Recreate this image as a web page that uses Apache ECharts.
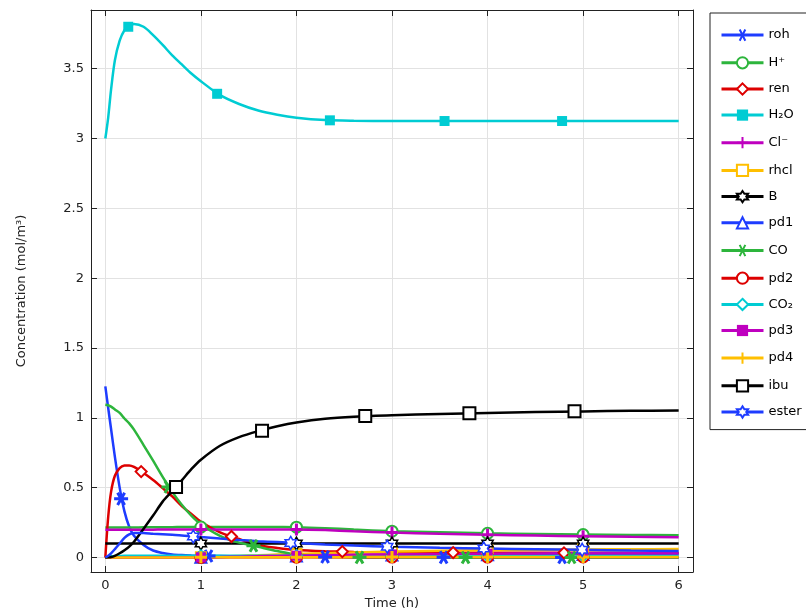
<!DOCTYPE html>
<html><head><meta charset="utf-8">
<script src="https://cdn.jsdelivr.net/npm/echarts@6/dist/echarts.min.js"></script>
<style>html,body{margin:0;padding:0;background:#fff}#c{width:806px;height:609px}</style>
</head><body><div id="c"></div>
<script>
// ---- data (time in h, concentration in mol/m^3) ----
const time  = [0, 0.03, 0.06, 0.1, 0.15, 0.2, 0.25, 0.3, 0.4, 0.5, 0.6, 0.7, 0.8, 0.9, 1.0, 1.2, 1.4, 1.6, 1.8, 2.0, 2.3, 2.6, 3.0, 3.5, 4.0, 4.5, 5.0, 5.5, 6.0];
const roh   = [1.225, 1.07, 0.92, 0.72, 0.50, 0.33, 0.22, 0.155, 0.09, 0.05, 0.032, 0.022, 0.017, 0.014, 0.012, 0.010, 0.008, 0.007, 0.006, 0.005, 0.004, 0.003, 0.002, 0.001, 0, 0, 0, 0, 0];
const hplus = [0.215, 0.215, 0.215, 0.215, 0.215, 0.215, 0.215, 0.215, 0.216, 0.216, 0.217, 0.217, 0.218, 0.218, 0.218, 0.219, 0.219, 0.219, 0.218, 0.217, 0.21, 0.2, 0.188, 0.18, 0.173, 0.168, 0.164, 0.161, 0.159];
const ren   = [0, 0.29, 0.47, 0.585, 0.64, 0.658, 0.659, 0.648, 0.605, 0.555, 0.497, 0.437, 0.368, 0.312, 0.256, 0.18, 0.132, 0.088, 0.068, 0.054, 0.045, 0.04, 0.037, 0.035, 0.034, 0.034, 0.033, 0.033, 0.032];
const h2o   = [3.0, 3.15, 3.35, 3.56, 3.70, 3.775, 3.805, 3.82, 3.80, 3.74, 3.67, 3.595, 3.53, 3.465, 3.41, 3.31, 3.247, 3.20, 3.17, 3.149, 3.132, 3.127, 3.125, 3.125, 3.125, 3.125, 3.125, 3.125, 3.125];
const cl    = [0.198, 0.198, 0.198, 0.198, 0.198, 0.198, 0.198, 0.198, 0.199, 0.199, 0.2, 0.2, 0.2, 0.2, 0.2, 0.201, 0.201, 0.201, 0.2, 0.2, 0.196, 0.188, 0.178, 0.17, 0.163, 0.157, 0.152, 0.148, 0.145];
const rhcl  = [0, 0, 0, 0, 0, 0, 0, 0, 0, 0, 0, 0, 0, 0.001, 0.002, 0.006, 0.011, 0.016, 0.021, 0.025, 0.031, 0.036, 0.042, 0.048, 0.052, 0.055, 0.057, 0.059, 0.06];
const bb    = [0.1, 0.1, 0.1, 0.1, 0.1, 0.1, 0.1, 0.1, 0.1, 0.1, 0.1, 0.1, 0.1, 0.1, 0.1, 0.1, 0.1, 0.1, 0.1, 0.1, 0.1, 0.1, 0.1, 0.1, 0.1, 0.1, 0.1, 0.1, 0.1];
const pd1   = [0, 0, 0, 0, 0, 0, 0, 0, 0, 0, 0, 0.001, 0.001, 0.002, 0.002, 0.004, 0.006, 0.008, 0.009, 0.011, 0.013, 0.015, 0.017, 0.019, 0.02, 0.021, 0.022, 0.023, 0.024];
const co    = [1.094, 1.09, 1.08, 1.06, 1.035, 0.995, 0.96, 0.915, 0.805, 0.693, 0.577, 0.47, 0.378, 0.30, 0.238, 0.155, 0.106, 0.076, 0.046, 0.022, 0.008, 0.002, 0, 0, 0, 0, 0, 0, 0];
const pd2   = [0, 0, 0, 0, 0, 0, 0, 0, 0, 0, 0, 0, 0, 0, 0, 0.001, 0.001, 0.001, 0.001, 0.002, 0.002, 0.002, 0.003, 0.003, 0.003, 0.004, 0.004, 0.004, 0.004];
const co2   = [0, 0.004, 0.008, 0.01, 0.011, 0.012, 0.012, 0.012, 0.012, 0.012, 0.012, 0.012, 0.012, 0.012, 0.012, 0.012, 0.012, 0.012, 0.012, 0.012, 0.011, 0.011, 0.011, 0.011, 0.011, 0.01, 0.01, 0.01, 0.01];
const pd3   = [0, 0, 0, 0, 0, 0, 0, 0, 0, 0, 0, 0, 0, 0, 0.001, 0.003, 0.006, 0.009, 0.011, 0.013, 0.016, 0.019, 0.022, 0.025, 0.027, 0.029, 0.03, 0.031, 0.031];
const pd4   = [0, 0, 0, 0, 0, 0, 0, 0, 0, 0, 0, 0, 0, 0, 0.001, 0.001, 0.001, 0.002, 0.002, 0.002, 0.002, 0.003, 0.003, 0.003, 0.003, 0.003, 0.003, 0.003, 0.003];
const ibu   = [0, 0.001, 0.003, 0.012, 0.03, 0.052, 0.078, 0.112, 0.205, 0.30, 0.40, 0.475, 0.552, 0.632, 0.70, 0.80, 0.862, 0.905, 0.94, 0.967, 0.994, 1.008, 1.018, 1.028, 1.035, 1.041, 1.046, 1.05, 1.053];
const ester = [0, 0.012, 0.03, 0.06, 0.10, 0.14, 0.165, 0.176, 0.175, 0.17, 0.166, 0.162, 0.158, 0.152, 0.146, 0.135, 0.125, 0.117, 0.11, 0.103, 0.093, 0.085, 0.077, 0.07, 0.064, 0.059, 0.055, 0.05, 0.046];

// marker positions [time, value]
const rohMarks   = [[0.165, 0.42], [1.08, 0.011], [2.3, 0.004], [3.54, 0.001], [4.78, 0]];
const hplusMarks = [[1, 0.218], [2, 0.217], [3, 0.188], [4, 0.173], [5, 0.164]];
const renMarks   = [[0.375, 0.615], [1.32, 0.15], [2.48, 0.042], [3.64, 0.035], [4.8, 0.033]];
const h2oMarks   = [[0.24, 3.80], [1.17, 3.32], [2.35, 3.13], [3.55, 3.125], [4.78, 3.125]];
const clMarks    = [[1, 0.2], [2, 0.2], [3, 0.178], [4, 0.163], [5, 0.152]];
const rhclMarks  = [[1, 0.002], [2, 0.025], [3, 0.042], [4, 0.052], [5, 0.057]];
const bMarks     = [[1, 0.1], [2, 0.1], [3, 0.1], [4, 0.1], [5, 0.1]];
const pd1Marks   = [[1, 0.002], [2, 0.011], [3, 0.017], [4, 0.02], [5, 0.022]];
const coMarks    = [[0.66, 0.505], [1.55, 0.084], [2.66, 0.001], [3.77, 0], [4.88, 0]];
const pd2Marks   = [[1, 0], [2, 0.002], [3, 0.003], [4, 0.003], [5, 0.004]];
const co2Marks   = [[1, 0.012], [2, 0.012], [3, 0.011], [4, 0.011], [5, 0.01]];
const pd3Marks   = [[1, 0.001], [2, 0.013], [3, 0.022], [4, 0.027], [5, 0.03]];
const pd4Marks   = [[1, 0.001], [2, 0.002], [3, 0.003], [4, 0.003], [5, 0.003]];
const ibuMarks   = [[0.74, 0.505], [1.64, 0.907], [2.72, 1.013], [3.81, 1.033], [4.91, 1.047]];
const esterMarks = [[0.92, 0.15], [1.94, 0.104], [2.95, 0.077], [3.96, 0.065], [4.99, 0.055]];

const xTicks = [0, 1, 2, 3, 4, 5, 6];
const yTicks = [0, 0.5, 1, 1.5, 2, 2.5, 3, 3.5];

// ---- styling ----
const BLUE = '#1e3cff', GREEN = '#2db53c', RED = '#dd0000', CYAN = '#00ccd3',
      MAG = '#bf00bf', ORANGE = '#ffbf00', BLACK = '#000000';
const FONT = 'DejaVu Sans';
const SYM = {
  ast: 'path://M-10,0L10,0M-5,-8.66L5,8.66M-5,8.66L5,-8.66',
  plus: 'path://M0,-10L0,10M-10,0L10,0',
  hex: 'path://M0,-10L2.887,-5L8.66,-5L5.774,0L8.66,5L2.887,5L0,10L-2.887,5L-8.66,5L-5.774,0L-8.66,-5L-2.887,-5Z'
};
const defs = [
  {name: 'roh',   y: roh,   m: rohMarks,   c: BLUE,   s: SYM.ast,  k: 'open', size: 14},
  {name: 'H⁺',    y: hplus, m: hplusMarks, c: GREEN,  s: 'emptyCircle', k: 'empty', size: 11},
  {name: 'ren',   y: ren,   m: renMarks,   c: RED,    s: 'emptyDiamond', k: 'empty', size: 11},
  {name: 'H₂O',   y: h2o,   m: h2oMarks,   c: CYAN,   s: 'rect', k: 'fill', size: 10},
  {name: 'Cl⁻',   y: cl,    m: clMarks,    c: MAG,    s: SYM.plus, k: 'open', size: 12},
  {name: 'rhcl',  y: rhcl,  m: rhclMarks,  c: ORANGE, s: 'emptyRect', k: 'empty', size: 10},
  {name: 'B',     y: bb,    m: bMarks,     c: BLACK,  s: SYM.hex, k: 'hex', size: 13},
  {name: 'pd1',   y: pd1,   m: pd1Marks,   c: BLUE,   s: 'emptyTriangle', k: 'empty', size: 11},
  {name: 'CO',    y: co,    m: coMarks,    c: GREEN,  s: SYM.ast,  k: 'open', size: 14},
  {name: 'pd2',   y: pd2,   m: pd2Marks,   c: RED,    s: 'emptyCircle', k: 'empty', size: 11},
  {name: 'CO₂',   y: co2,   m: co2Marks,   c: CYAN,   s: 'emptyDiamond', k: 'empty', size: 11},
  {name: 'pd3',   y: pd3,   m: pd3Marks,   c: MAG,    s: 'rect', k: 'fill', size: 10},
  {name: 'pd4',   y: pd4,   m: pd4Marks,   c: ORANGE, s: SYM.plus, k: 'open', size: 12},
  {name: 'ibu',   y: ibu,   m: ibuMarks,   c: BLACK,  s: 'emptyRect', k: 'empty', size: 12},
  {name: 'ester', y: ester, m: esterMarks, c: BLUE,   s: SYM.hex, k: 'hex', size: 13}
];
function itemStyleFor(d) {
  if (d.k === 'open') return {color: 'none', borderColor: d.c, borderWidth: 3, opacity: 1};
  if (d.k === 'hex') return {color: '#ffffff', borderColor: d.c, borderWidth: 1.5, opacity: 1};
  if (d.k === 'empty') return {color: d.c, borderWidth: 1.8, opacity: 1};
  return {color: d.c, borderWidth: 0, opacity: 1};
}
const series = [];
defs.forEach(d => {
  const ist = itemStyleFor(d);
  series.push({
    name: d.name, type: 'line', data: time.map((t, i) => [t, d.y[i]]),
    smooth: 0.3, showSymbol: false, symbol: d.s,
    symbolKeepAspect: true, z: 2,
    lineStyle: {color: d.c, width: 2.5}, itemStyle: ist,
    emphasis: {disabled: true}, animation: false, silent: true
  });
  series.push({
    name: d.name + ' markers', type: 'scatter', data: d.m, z: 3,
    symbol: d.s, symbolSize: d.size, symbolKeepAspect: true, clip: false,
    itemStyle: ist, emphasis: {disabled: true}, animation: false, silent: true
  });
});

const axisLineStyle = {show: true, onZero: false, lineStyle: {color: '#222', width: 1}};
const labelStyle = {color: '#222', fontSize: 13, fontFamily: FONT};
const option = {
  backgroundColor: '#fff',
  animation: false,
  grid: {left: 91, right: 113, top: 10, bottom: 37, outerBoundsMode: 'none', containLabel: false},
  xAxis: [
    {type: 'value', min: -0.15, max: 6.15, position: 'bottom',
     axisLine: axisLineStyle,
     axisTick: {show: true, inside: true, length: 6, customValues: xTicks, lineStyle: {color: '#222'}},
     axisLabel: Object.assign({customValues: xTicks, margin: 7}, labelStyle),
     splitLine: {show: true, lineStyle: {color: '#e2e2e2', width: 1}},
     name: 'Time (h)', nameLocation: 'middle', nameGap: 24,
     nameTextStyle: labelStyle},
    {type: 'value', min: -0.15, max: 6.15, position: 'top',
     axisLine: axisLineStyle,
     axisTick: {show: true, inside: true, length: 6, customValues: xTicks, lineStyle: {color: '#222'}},
     axisLabel: {show: false}, splitLine: {show: false}}
  ],
  yAxis: [
    {type: 'value', min: -0.104, max: 3.92, position: 'left',
     axisLine: axisLineStyle,
     axisTick: {show: true, inside: true, length: 6, customValues: yTicks, lineStyle: {color: '#222'}},
     axisLabel: Object.assign({customValues: yTicks, margin: 7}, labelStyle),
     splitLine: {show: true, lineStyle: {color: '#e2e2e2', width: 1}},
     name: 'Concentration (mol/m³)', nameLocation: 'middle', nameGap: 63,
     nameTextStyle: labelStyle},
    {type: 'value', min: -0.104, max: 3.92, position: 'right',
     axisLine: axisLineStyle,
     axisTick: {show: true, inside: true, length: 6, customValues: yTicks, lineStyle: {color: '#222'}},
     axisLabel: {show: false}, splitLine: {show: false}}
  ],
  legend: {
    orient: 'vertical', left: 710, top: 13,
    itemWidth: 42, itemHeight: 14, itemGap: 13,
    padding: [14, 12, 11, 10],
    borderColor: '#222', borderWidth: 1, backgroundColor: '#fff',
    textStyle: {color: '#000', fontSize: 13, fontFamily: FONT},
    lineStyle: {width: 3},
    selectedMode: false,
    data: defs.map(d => d.name)
  },
  series: series
};
const chart = echarts.init(document.getElementById('c'), null, {renderer: 'canvas'});
chart.setOption(option);
</script>
</body></html>
